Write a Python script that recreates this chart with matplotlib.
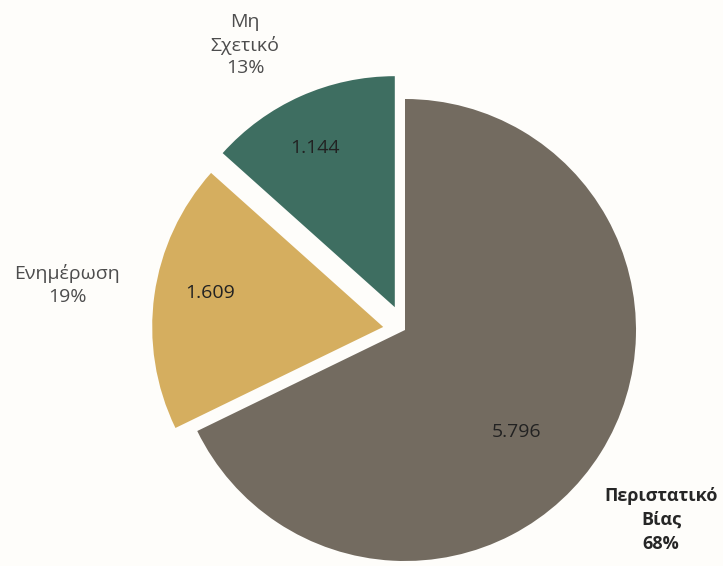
import numpy as np
import matplotlib.pyplot as plt

# Data
labels = ["Περιστατικό\nΒίας", "Ενημέρωση", "Μη\nΣχετικό"]
values = [5.796, 1.609, 1.144]
value_text = ["5.796", "1.609", "1.144"]
colors = ["#736b60", "#d5ae5f", "#3e6e61"]

plt.rcParams['font.family'] = ['Open Sans', 'DejaVu Sans']

fig = plt.figure(figsize=(7.23, 5.66), dpi=100, facecolor="#fefdfa")
ax = fig.add_axes([0, 0, 1, 1])
ax.set_facecolor("#fefdfa")

# pie drawn in pixel-like units so it lines up with the reference
cx, cy, r = 405, 236, 231
wedges, _ = ax.pie(values, colors=colors, startangle=90, counterclock=False,
                   explode=[0, 22, 25], center=(cx, cy), radius=r,
                   wedgeprops=dict(linewidth=0))

pcts = [round(v / sum(values) * 100) for v in values]

# label placement (pixel offsets from pie centre)
inner_pos = [(112, -102), (-195, 37), (-90, 182)]
outer_pos = [(256, -190), (-338, 45), (-160, 285)]
for i in range(len(values)):
    ax.text(cx + inner_pos[i][0], cy + inner_pos[i][1], value_text[i],
            ha="center", va="center", fontsize=14, color="#222222")
    bold = i == 0
    ax.text(cx + outer_pos[i][0], cy + outer_pos[i][1],
            f"{labels[i]}\n{pcts[i]}%", ha="center", va="center",
            fontsize=13 if bold else 14, linespacing=1.4 if bold else 1.3,
            color="#262626" if bold else "#4d4d4d",
            fontweight="bold" if bold else "normal")

ax.set_xlim(0, 723)
ax.set_ylim(0, 566)
ax.set_aspect("equal")
ax.axis("off")

fig.savefig("out.png", dpi=100, facecolor=fig.get_facecolor())
